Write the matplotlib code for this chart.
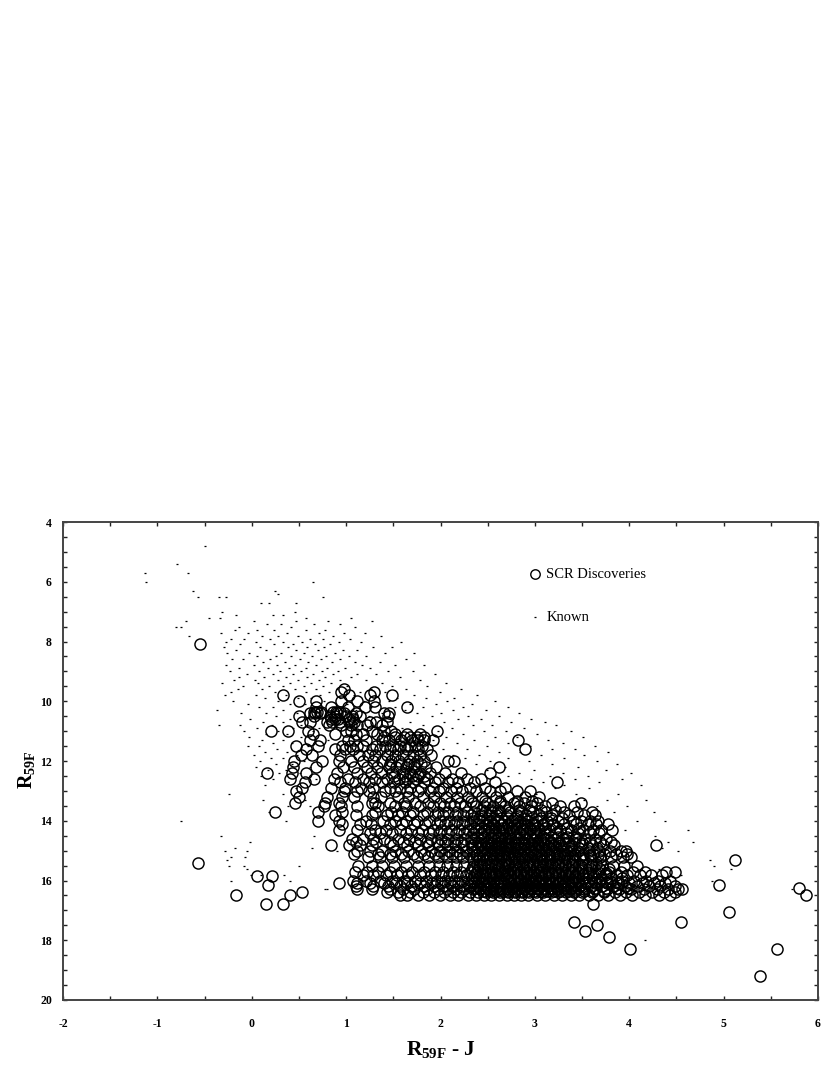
import matplotlib
matplotlib.use("Agg")
import matplotlib.pyplot as plt
from matplotlib.ticker import MultipleLocator, FixedFormatter, FixedLocator

plt.rcParams['font.family'] = ['Liberation Serif', 'DejaVu Serif']
plt.rcParams['mathtext.fontset'] = 'custom'
plt.rcParams['mathtext.rm'] = 'Liberation Serif:bold'
plt.rcParams['mathtext.bf'] = 'Liberation Serif:bold'

# SCR discoveries read row by row: key = R59F * 10, values = (R59F - J) * 100
scr_rows = {
 81: [-55], 96: [98], 97: [95,130], 98: [33,103,125,149], 100: [50,68,95,112,130],
 102: [68,84,102,120,131,165], 104: [62,67,72,90,98,110,140,145], 105: [50,66,83,88,100,106,115,144],
 107: [53,62,80,85,93,103,108,125,132,143], 108: [82,95,105,112,122,138],
 110: [20,38,60,100,105,127,140,148,196], 111: [65,88,110,118,133,152,165,178],
 113: [62,72,102,108,121,138,145,158,170,176,182,192,282], 115: [47,70,96,104,112,118,132,141,150,157,162,168,173,180],
 116: [58,88,99,107,127,136,147,155,165,176,186,290], 118: [52,64,94,114,123,131,143,152,160,171,178,190],
 120: [45,74,92,105,118,128,138,148,156,167,175,183,208,214], 122: [44,68,97,108,122,133,145,153,163,172,185,195,262],
 124: [16,43,58,90,112,126,137,149,160,168,178,189,205,222,252], 126: [41,66,87,102,118,131,143,156,165,174,186,198,212,228,243],
 127: [56,94,109,124,138,151,162,171,183,194,208,219,236,258,323], 129: [53,84,99,116,129,146,157,168,179,192,203,216,231,247,268],
 130: [47,98,112,124,141,152,164,176,189,198,211,223,238,252,263,281,295], 132: [50,80,96,108,128,137,155,166,181,193,206,218,229,244,259,272,290,304],
 134: [46,78,92,127,131,146,161,173,187,199,210,221,234,249,263,278,288,302,318,349],
 135: [77,95,112,134,152,163,178,192,204,214,226,238,246,256,268,283,296,311,327,341],
 137: [25,70,96,131,148,159,171,186,197,208,217,228,236,247,254,263,274,285,298,312,331,345,361],
 138: [88,110,127,143,155,168,181,194,203,215,224,232,243,251,259,270,281,291,304,318,336,352,364],
 140: [70,92,121,139,152,163,175,188,199,209,218,227,235,244,252,261,267,276,284,293,302,313,325,340,349,358,367],
 141: [96,115,126,146,159,172,184,196,205,214,223,231,240,248,256,265,272,281,290,299,309,319,331,344,356,365,378],
 143: [92,112,131,142,157,169,180,192,201,211,220,229,238,246,254,262,269,277,286,295,304,315,327,338,351,362,370,382],
 144: [125,136,149,163,176,188,198,207,216,225,234,243,250,258,266,274,283,291,300,310,322,333,346,358,368],
 146: [106,118,128,140,155,167,178,190,200,208,217,226,236,245,253,261,268,275,282,290,297,305,312,321,330,342,353,364,375],
 147: [110,132,146,160,173,186,196,205,214,222,232,240,249,257,264,271,279,287,294,302,309,317,326,335,347,358,369,381],
 148: [84,103,115,127,150,164,176,187,198,207,215,224,233,242,250,258,265,273,280,288,296,303,311,319,328,338,349,361,372,384,428],
 150: [112,125,138,152,166,179,190,199,209,218,227,236,244,252,260,267,274,281,289,296,304,312,320,329,337,346,357,368,380,391,397],
 151: [108,134,147,158,171,183,194,204,212,221,230,239,247,255,262,270,277,284,292,300,307,315,323,332,341,351,362,373,386,398],
 152: [123,136,149,161,175,187,197,207,216,224,233,241,249,257,264,272,279,286,294,301,308,316,324,331,340,348,359,369,381,393,402],
 154: [102,118,130,143,155,167,181,192,202,211,219,228,237,245,253,260,268,275,282,290,297,305,312,320,328,336,344,354,365,376,388,399,429],
 155: [113,127,138,151,163,176,188,198,207,216,225,234,242,250,258,265,272,280,287,294,302,309,316,324,332,340,349,359,371,383,394,408],
 157: [109,122,134,147,158,170,183,194,203,213,222,231,239,247,255,262,270,277,284,292,299,306,314,321,329,337,346,356,367,379,391,404,417,439,449],
 158: [118,128,142,154,166,178,190,200,209,218,227,236,244,252,259,267,274,281,289,296,303,311,318,326,333,342,351,362,374,386,398,411,423,435],
 160: [107,121,136,149,161,173,185,196,205,214,223,232,240,248,256,263,271,278,285,293,300,307,315,322,330,338,347,357,368,380,392,405,418,430,443],
 161: [92,112,125,140,153,165,178,191,201,210,219,228,236,245,252,260,267,275,282,290,297,304,312,319,327,335,343,353,364,376,388,400,413,426,438],
 162: [110,129,144,157,169,182,193,203,212,221,230,238,247,254,262,270,277,285,292,299,307,314,322,330,338,348,359,371,383,395,408,421,433,449],
 163: [111,127,147,160,172,186,197,207,216,225,234,242,250,258,265,273,280,288,295,303,310,318,325,333,342,352,364,376,389,402,416,429,441,456,452],
 164: [53,143,155,168,181,193,204,213,222,231,240,248,256,263,271,279,286,294,301,309,317,325,333,341,350,361,373,385,397,410,424,437,449],
 165: [-17,41,157,164,176,188,199,210,219,229,238,246,254,262,270,278,285,293,302,311,320,329,338,347,357,367,378,390,403,417,431,443,587],
 162.5: [580], 168: [33,15,362], 158.5: [21], 161.5: [17,495], 158.6: [6], 154.0: [-57],
 153: [512], 170.7: [506], 174: [455,341], 175: [366], 177: [353], 179: [379], 183: [401,557], 192: [539],
}

# further SCR discoveries in the crowded parts of the cloud, same encoding
scr_dense_rows = {
 103.5: [66,69,73,86,89,93], 106: [84,88,91,103,107], 112: [140,152,161,168,175,183], 121: [147,158,166,172,179],
 125: [151,162,170,176,183], 133.5: [232,247,263,281,297],
 136.5: [244,252,261,271,283,294,306,321], 139: [234,241,249,257,264,272,279,288,297,306,317,329],
 142.5: [236,243,251,258,265,273,280,287,295,302,311,322,334,347],
 145.5: [232,239,246,254,261,268,274,281,288,295,302,309,317,325,334,344],
 149: [233,240,247,254,261,268,275,282,289,295,301,308,315,322,330,338,347,356,366],
 153: [234,241,248,255,262,269,275,282,289,295,302,308,315,322,329,336,343,351,360,370],
 156: [233,240,247,254,261,268,274,281,288,294,301,307,314,321,328,335,342,350,359,369,379],
 159: [234,241,248,255,262,269,275,282,288,295,301,308,315,322,329,336,343,351,360,370,381,392],
 160.5: [236,243,250,257,264,271,278,284,291,298,305,311,318,325,332,339,346,355,364,375,386],
 162.5: [235,242,249,256,263,270,276,283,290,296,303,310,317,323,331,338,346,354,364,375,387,399],
 163.5: [245,252,259,266,272,279,286,292,299,306,313,320,327,335,343,352,362,373],
 147.5: [242,248,255,262,269,275,282,289,296,303,310,317,324,332,341,350],
 151.5: [238,245,252,259,266,273,279,286,293,299,306,313,320,327,334,342,350,358,367],
 154.5: [239,246,253,260,267,273,279,286,292,298,305,311,318,325,332,339,347,356,365],
 157.5: [238,245,252,258,265,272,278,285,291,298,304,311,318,325,332,339,347,356,365,375],
 141.5: [250,257,264,271,278,285,292,300,309,318],
}

# Known stars read row by row: key = R59F * 10, values = (R59F - J) * 100
known_rows = {
 48: [-50], 54: [-79], 57: [-113,-68], 60: [-112,65], 63: [-62,25], 64: [28],
 65: [-57,-35,-27,75], 67: [47,18,10], 70: [46,-31], 71: [-17,22,33], 72: [-34,-45,58,105],
 73: [-70,2,47,81,127], 74: [16,31,66,93], 75: [-80,-75,-13,42,109], 76: [-18,6,24,57,78],
 77: [-33,-4,37,71,98,120], 78: [-67,11,28,49,86,137], 79: [-22,-8,19,62,75,104],
 80: [-27,4,33,53,92,116,158], 81: [-12,24,44,67,83], 82: [-29,9,38,59,77,129,149],
 83: [-17,15,47,70,97,112], 84: [-26,-3,31,55,88,141,172], 85: [6,26,42,64,79,103,121],
 86: [-21,-9,19,51,73,94,163], 87: [12,35,60,85,109,136], 88: [-27,2,27,46,68,117,152,183],
 89: [-14,17,39,57,80,99,125], 90: [-23,8,30,52,74,91,144,171], 91: [-5,22,44,65,86,112,132,194],
 92: [-13,13,36,59,78,105,157], 93: [-19,3,28,49,71,93,121,178], 94: [-31,7,41,63,84,138,206],
 95: [-9,18,33,55,76,101,149,186], 96: [-15,11,46,68,90,126,163,222], 97: [-22,25,58,82,115,141,199],
 98: [-28,4,36,72,108,131,172,239], 99: [14,49,63,94,154,185,214], 100: [-20,28,77,119,145,207,258],
 101: [-4,41,56,101,168,195,233], 102: [8,22,86,126,152,181,224,272], 103: [-37,33,64,110,162,213,248],
 104: [-11,15,48,138,175,201,283], 105: [26,73,124,191,229,262], 106: [-2,40,58,147,219,243,296],
 107: [12,33,96,168,204,275,311], 108: [-35,-12,21,52,181,234,255,322], 109: [6,44,71,159,212,288],
 110: [-8,28,65,197,246,269,338], 111: [15,37,173,224,302], 112: [-3,52,206,258,281,351],
 113: [11,33,81,192,236,314], 114: [22,43,217,271,330], 115: [-4,8,60,249,295,364],
 116: [27,203,228,318,343], 117: [14,37,262,284,377], 118: [2,48,213,241,307,352],
 119: [20,33,226,271,331], 120: [9,55,252,294,366], 121: [26,43,238,318,387], 122: [4,62,268,346],
 123: [17,36,249,299,375], 124: [29,51,283,330,402], 125: [10,271,316,356],
 126: [22,68,296,342,392], 127: [38,309,368], 128: [14,281,331,412], 129: [47,321,357],
 131: [-24,33,301,344,388], 133: [12,56,352,376,418], 135: [38,62,366,398],
 137: [18,384,426], 140: [-75,36,408,438], 143: [395,462], 145: [-33,66,427],
 147: [-2,441,468], 149: [-18,64,435], 150: [-28,-5,90,452], 152: [-22,-7],
 153: [-26,486], 155: [-24,-8,50,490], 156: [-5,432,508], 158: [10,-1,34,454,455],
 160: [-22,20,40,488], 163: [80,78,572], 180: [417],
}

x_ticks = [-2, -1, 0, 1, 2, 3, 4, 5, 6]
y_ticks = [4, 6, 8, 10, 12, 14, 16, 18, 20]
legend_labels = ["SCR Discoveries", "Known"]

scr_x, scr_y = [], []
for rows in (scr_rows, scr_dense_rows):
    for key, vals in rows.items():
        for v in vals:
            scr_x.append(v / 100)
            scr_y.append(key / 10)
known_x, known_y = [], []
for key, vals in known_rows.items():
    for v in vals:
        known_x.append(v / 100)
        known_y.append(key / 10)

fig = plt.figure(figsize=(8.3, 10.75), dpi=100)
ax = fig.add_axes([63 / 830, 1 - 1000 / 1075, (818 - 63) / 830, (1000 - 522) / 1075])

ax.plot(known_x, known_y, ls='none', marker='_', ms=1.8, mec='black', mew=0.9, zorder=2)
ax.plot(scr_x, scr_y, ls='none', marker='o', ms=8.0, mfc='none', mec='black', mew=1.05, zorder=3)

ax.set_xlim(-2, 6)
ax.set_ylim(20, 4)
ax.xaxis.set_major_locator(FixedLocator(x_ticks))
ax.yaxis.set_major_locator(FixedLocator(y_ticks))
ax.xaxis.set_minor_locator(MultipleLocator(0.5))
ax.yaxis.set_minor_locator(MultipleLocator(0.5))
ax.xaxis.set_major_formatter(FixedFormatter([str(t) for t in x_ticks]))
ax.yaxis.set_major_formatter(FixedFormatter([str(t) for t in y_ticks]))
ax.tick_params(which='both', direction='in', top=True, right=True, width=1.0, length=3, color='#222222')
ax.tick_params(axis='x', which='major', labelsize=8.5, pad=13)
ax.tick_params(axis='y', which='major', labelsize=8.5, pad=8)
for lab in ax.get_xticklabels() + ax.get_yticklabels():
    lab.set_fontweight('bold')
for sp in ax.spines.values():
    sp.set_linewidth(1.4)
    sp.set_color('#444444')

ax.plot([0.625], [0.891], transform=ax.transAxes, marker='o', ms=6.8, mfc='none', mec='black', mew=1.0)
ax.plot([0.625], [0.801], transform=ax.transAxes, marker='_', ms=1.8, mec='black', mew=0.9)
ax.text(0.64, 0.891, legend_labels[0], transform=ax.transAxes, fontsize=10.5, va='center', ha='left')
ax.text(0.64, 0.801, legend_labels[1], transform=ax.transAxes, fontsize=10.5, va='center', ha='left')

fig.text(441 / 830, 1 - 1049 / 1075, r"$\mathbf{R_{59F}}$ - J", fontsize=15.5, fontweight='bold', ha='center', va='center')
fig.text(26 / 830, 1 - 770 / 1075, r"$\mathbf{R_{59F}}$", fontsize=14.5, fontweight='bold', rotation=90, ha='center', va='center')

fig.savefig("out.png", dpi=100)
